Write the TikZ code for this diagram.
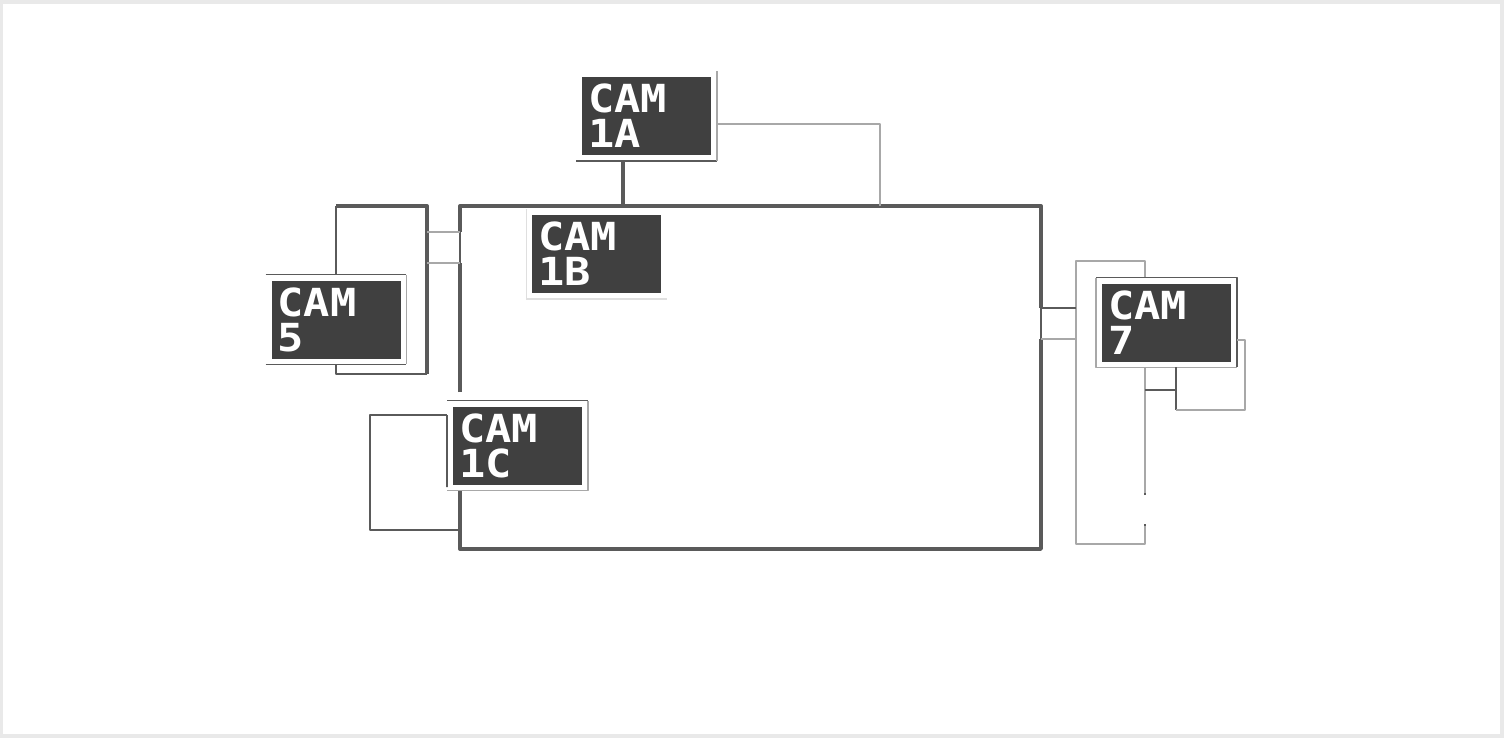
\documentclass[tikz,border=0pt]{standalone}
\usepackage{fontspec}
\setmonofont[FakeStretch=1.13]{DejaVu Sans Mono}
\definecolor{camdark}{HTML}{404040}
\definecolor{wallgray}{HTML}{5A5A5A}
\definecolor{wirefaint}{HTML}{A8A8A8}
\definecolor{pageedge}{HTML}{E9E9E9}

\begin{document}
\begin{tikzpicture}[x=0.02cm, y=-0.02cm,
cam_style/.style={rectangle, fill=camdark, draw=white, line width=3.4pt, minimum width=2.7cm, minimum height=1.68cm, inner sep=0pt, text=white, text width=2.34cm, align=left, font=\ttfamily\bfseries\fontsize{22}{20}\selectfont},
wall_style/.style={color=wallgray, line width=1.9pt, line join=round},
wire_style/.style={color=wallgray, line width=1.1pt, line join=round},
faint_style/.style={color=wirefaint, line width=0.9pt, line join=round},
pale_style/.style={color=gray!25, line width=0.6pt},
door_style/.style={color=wallgray, line width=0.9pt, preaction={draw=white, line width=2.2pt}},
]

	\fill[pageedge] (0,0) rectangle (1504,738);
	\fill[white] (3,4) rectangle (1500,734);

	% the hall
	\coordinate (hallnw) at (460,206);
	\coordinate (hallne) at (1041,206);
	\coordinate (hallse) at (1041,549);
	\coordinate (hallsw) at (460,549);
	\coordinate (hallgapl) at (460,392);
	\coordinate (hallgapr) at (460,491);
	\draw[wall_style] (hallgapl)--(hallnw)--(hallne)--(hallse)--(hallsw)--(hallgapr);
	\draw[door_style] (hallnw |- 0,232)--(hallnw |- 0,263);
	\draw[door_style] (hallne |- 0,308)--(hallne |- 0,339);

	\node[cam_style] at (646.5,116) (cam1a) {CAM\\1A};
	\node[cam_style] at (596.5,254) (cam1b) {CAM\\1B};
	\node[cam_style] at (336,319.5) (cam5) {CAM\\5};
	\node[cam_style] at (517.5,445.5) (cam1c) {CAM\\1C};
	\node[cam_style] at (1166.5,322.5) (cam7) {CAM\\7};

	% camera 1A
	\coordinate (topjoin) at (623,206);
	\coordinate (sidejoin) at (880,206);
	\draw[wall_style] (cam1a.south -| topjoin)--(topjoin);
	\draw[wire_style] (cam1a.south west)--(cam1a.south east);
	\draw[faint_style] (cam1a.south east)--(cam1a.north east);
	\draw[faint_style] (cam1a.east |- 0,124)--(sidejoin |- 0,124)--(sidejoin);

	% camera 1B
	\draw[pale_style] (cam1b.north west)--(cam1b.south west)--(cam1b.south east);

	% camera 5
	\coordinate (leftne) at (427,206);
	\coordinate (leftse) at (427,374);
	\coordinate (leftsw) at (336,374);
	\coordinate (leftnw) at (336,206);
	\draw[wire_style] (cam5.north)--(leftnw);
	\draw[wall_style] (leftnw)--(leftne)--(leftse);
	\draw[wire_style] (leftse)--(leftsw)--(cam5.south);
	\draw[wire_style] (cam5.north west)--(cam5.north east);
	\draw[wire_style] (cam5.south west)--(cam5.south east);
	\draw[faint_style] (cam5.north east)--(cam5.south east);
	\draw[faint_style] (leftne |- 0,232)--(hallnw |- 0,232);
	\draw[faint_style] (leftne |- 0,263)--(hallnw |- 0,263);

	% camera 1C
	\coordinate (roomne) at (370,415);
	\coordinate (roomse) at (370,530);
	\draw[wire_style] (cam1c.west |- roomne)--(roomne)--(roomse)--(hallnw |- roomse);
	\draw[wire_style] (cam1c.north west)--(cam1c.north east);
	\draw[wire_style] (cam1c.north west |- roomne)--(447,487);
	\draw[faint_style] (cam1c.south west)--(cam1c.south east)--(cam1c.north east);

	% camera 7
	\coordinate (rightnw) at (1076,261);
	\coordinate (rightsw) at (1076,544);
	\coordinate (stairtop) at (1145,261);
	\coordinate (stairlow) at (1145,544);
	\coordinate (stairend) at (1145,495);
	\coordinate (stairres) at (1145,524);
	\coordinate (loopsw) at (1176,410);
	\coordinate (loopse) at (1245,410);
	\draw[faint_style] (cam7.north -| stairtop)--(stairtop)--(rightnw)--(rightsw)--(stairlow)--(stairres);
	\draw[faint_style] (cam7.south -| stairtop)--(stairend);
	\draw[wire_style] (stairend)--++(0,-2);
	\draw[wire_style] (stairres)--++(0,2);
	\draw[faint_style] (cam7.north west)--(cam7.south west)--(cam7.south east);
	\draw[wire_style] (cam7.north west)--(cam7.north east)--(cam7.south east);
	\draw[wire_style] (hallne |- 0,308)--(rightnw |- 0,308);
	\draw[faint_style] (hallne |- 0,339)--(rightnw |- 0,339);
	\draw[wire_style] (stairtop |- 0,390)--(loopsw |- 0,390);
	\draw[wire_style] (cam7.south -| loopsw)--(loopsw);
	\draw[faint_style] (loopsw)--(loopse)--(loopse |- 0,340)--(cam7.east |- 0,340);

\end{tikzpicture}
\end{document}
